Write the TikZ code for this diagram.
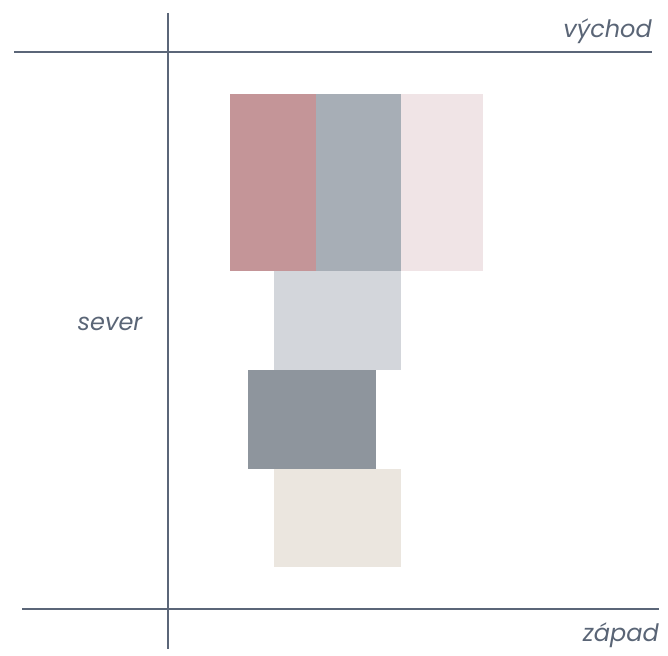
\documentclass[tikz,border=0pt]{standalone}
\usepackage{fontspec}
\newfontfamily\pop{Poppins}
\definecolor{axis}{HTML}{5B6678}
\definecolor{txt}{HTML}{5A6576}
\definecolor{cRose}{HTML}{C49598}
\definecolor{cSlate}{HTML}{A7AEB6}
\definecolor{cPink}{HTML}{F0E4E6}
\definecolor{cLight}{HTML}{D3D6DB}
\definecolor{cGray}{HTML}{8E959D}
\definecolor{cBeige}{HTML}{EBE6DF}
\tikzset{
  axisline/.style={draw=axis, line width=2.7pt},
  block/.style={fill=#1, draw=none, anchor=north west, inner sep=0pt, outer sep=0pt},
  lbl/.style={text=txt, inner sep=0pt, font=\pop\itshape\fontsize{24}{28}\selectfont}
}
\begin{document}
\begin{tikzpicture}[x=1pt,y=-1pt]
\useasboundingbox (0,0) rectangle (668,655);
% blocks
\node[block=cRose, minimum width=86pt, minimum height=177pt] (r1) at (230,94) {};
\node[block=cSlate, minimum width=85pt, minimum height=177pt] (r2) at (316,94) {};
\node[block=cPink, minimum width=82pt, minimum height=177pt] (r3) at (401,94) {};
\node[block=cLight, minimum width=127pt, minimum height=99pt] (r4) at (274,271) {};
\node[block=cGray, minimum width=128pt, minimum height=99pt] (r5) at (248,370) {};
\node[block=cBeige, minimum width=127pt, minimum height=98pt] (r6) at (274,469) {};
% axes
\coordinate (tl) at (14,52);
\coordinate (tr) at (652,52);
\coordinate (bl) at (22,609);
\coordinate (br) at (659,609);
\coordinate (vt) at (168,13);
\coordinate (vb) at (168,649);
\draw[axisline] (tl) -- (tr);
\draw[axisline] (bl) -- (br);
\draw[axisline] (vt) -- (vb);
% labels
\node[lbl, anchor=base east] (east) at (652,38) {východ};
\node[lbl, anchor=base east] (west) at (659,641) {západ};
\node[lbl, anchor=base] (north) at (110,330) {sever};
\end{tikzpicture}
\end{document}
